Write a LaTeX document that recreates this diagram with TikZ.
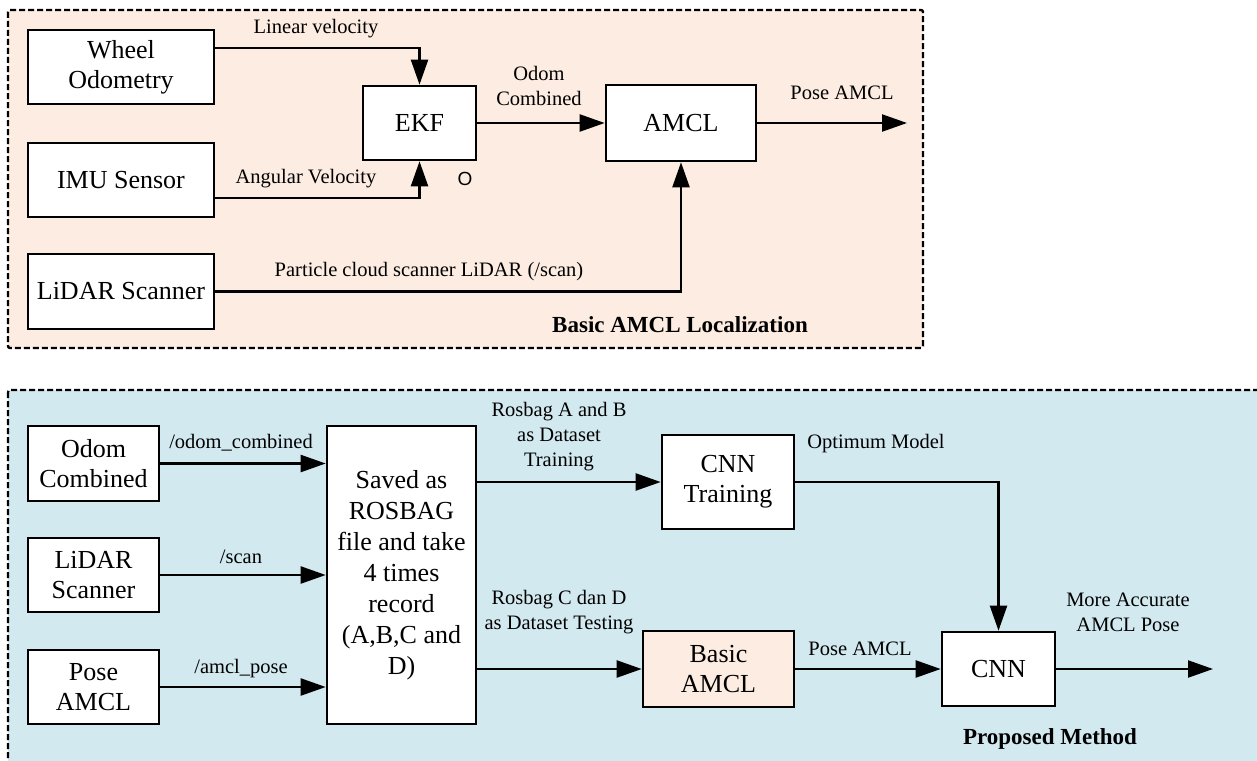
\documentclass[tikz,border=0pt]{standalone}
\usepackage{fontspec}
\setmainfont{Liberation Serif}
\newfontfamily\sanslbl{Liberation Sans}
\usepackage{xcolor}
\usepackage{tikz}
\usetikzlibrary{arrows.meta,positioning}
\definecolor{peach}{RGB}{252,236,225}
\definecolor{paleblue}{RGB}{210,233,240}

\begin{document}
\begin{tikzpicture}[x=1pt, y=-1pt,
  blok/.style={draw, line width=2.6pt, fill=white, align=center, inner sep=2pt, font=\fontsize{26}{30}\selectfont},
  lbl/.style={align=center, inner sep=0pt, font=\fontsize{20.5}{25}\selectfont},
  ttl/.style={inner sep=0pt, font=\fontsize{23}{27}\selectfont\bfseries},
  arr/.style={line width=2.2pt, -{Triangle[length=25pt, width=17pt]}},
  panel/.style={draw, line width=2.4pt, dash pattern=on 6pt off 3pt, rounded corners=2pt}]

\useasboundingbox (0,0) rectangle (1257,760);
\clip (0,0) rectangle (1257,760);

% Panels
\draw[panel, fill=peach] (8,10) rectangle (923,348);
\draw[panel, fill=paleblue] (8,390) rectangle (1280,790);

% Nodes (basic AMCL)
\node[blok, minimum width=186pt, minimum height=74pt] (wheel) at (121,67) {Wheel\\Odometry};
\node[blok, minimum width=186pt, minimum height=74pt] (imu) at (121,180) {IMU Sensor};
\node[blok, minimum width=186pt, minimum height=75pt] (lidar) at (121,291.5) {LiDAR Scanner};
\node[blok, minimum width=113pt, minimum height=74pt] (ekf) at (419.5,123) {EKF};
\node[blok, minimum width=150pt, minimum height=76pt] (amcl) at (681,123) {AMCL};
\coordinate (poseout) at (907,123);

% Arrows (basic AMCL)
\draw[arr] ([yshift=19pt]wheel.east) -| (ekf.north);
\draw[arr] ([yshift=-18pt]imu.east) -| (ekf.south);
\draw[arr] (ekf.east) -- (amcl.west);
\draw[arr] (lidar.east) -| (amcl.south);
\draw[arr] (amcl.east) -- (poseout);

% Labels (basic AMCL)
\node[lbl] (linlbl) at (316,29) {Linear velocity};
\node[lbl] (anglbl) at (306,179) {Angular Velocity};
\node[lbl] (odomlbl) at (539,85.5) {Odom\\Combined};
\node[lbl] (poselbl) at (842,93) {Pose AMCL};
\node[lbl] (scanlbl) at (429,272) {Particle cloud scanner LiDAR (/scan)};
\node[inner sep=0pt, font=\sanslbl\fontsize{19}{21}\selectfont] (olbl) at (465,179) {O};
\node[ttl] (toptitle) at (680,325) {Basic AMCL Localization};

% Nodes (proposed method)
\node[blok, minimum width=131pt, minimum height=75pt] (odom) at (93.5,463.5) {Odom\\Combined};
\node[blok, minimum width=131pt, minimum height=74pt] (lidarb) at (93.5,575) {LiDAR\\Scanner};
\node[blok, minimum width=131pt, minimum height=74pt] (pose) at (93.5,687) {Pose\\AMCL};
\node[blok, minimum width=149pt, minimum height=298pt, font=\fontsize{26}{31}\selectfont] (rosbag) at (401.5,575)
  {Saved as\\ROSBAG\\file and take\\4 times\\record\\(A,B,C and\\D)};
\node[blok, minimum width=132pt, minimum height=94pt] (cnntr) at (728,482) {CNN\\Training};
\node[blok, fill=peach, minimum width=151pt, minimum height=76pt] (basic) at (718.5,669) {Basic\\AMCL};
\node[blok, minimum width=113pt, minimum height=74pt] (cnn) at (998.5,669) {CNN};
\coordinate (finalout) at (1213,669);

% Arrows (proposed method)
\draw[arr] (odom.east) -- (rosbag.west |- odom.east);
\draw[arr] (lidarb.east) -- (rosbag.west |- lidarb.east);
\draw[arr] (pose.east) -- (rosbag.west |- pose.east);
\draw[arr] (rosbag.east |- cnntr.west) -- (cnntr.west);
\draw[arr] (rosbag.east |- basic.west) -- (basic.west);
\draw[arr] (basic.east) -- (cnn.west);
\draw[arr] (cnntr.east) -| (cnn.north);
\draw[arr] (cnn.east) -- (finalout);

% Labels (proposed method)
\node[lbl] (odomtopic) at (241,443) {/odom\_combined};
\node[lbl] (scantopic) at (241,557) {/scan};
\node[lbl] (posetopic) at (241,669) {/amcl\_pose};
\node[lbl] (trainlbl) at (559,437) {Rosbag A and B\\as Dataset\\Training};
\node[lbl] (testlbl) at (559,612) {Rosbag C dan D\\as Dataset Testing};
\node[lbl] (optlbl) at (876,444) {Optimum Model};
\node[lbl] (amcllbl) at (860,649) {Pose AMCL};
\node[lbl] (acclbl) at (1128,612) {More Accurate\\AMCL Pose};
\node[ttl] (bottitle) at (1050,739) {Proposed Method};

\end{tikzpicture}
\end{document}
